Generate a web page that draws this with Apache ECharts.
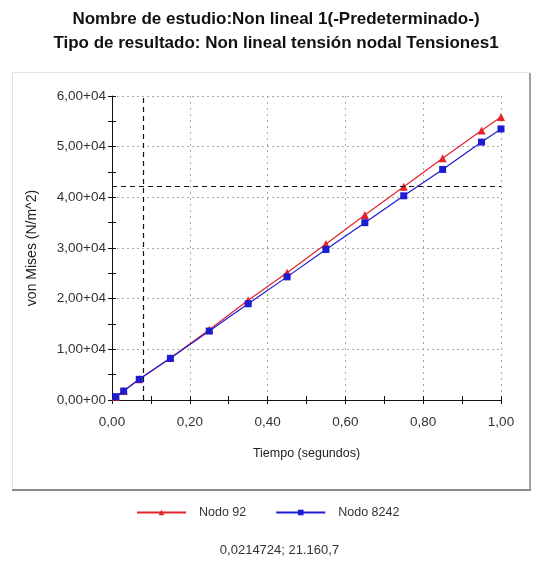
<!DOCTYPE html>
<html>
<head>
<meta charset="utf-8">
<script src="https://cdn.jsdelivr.net/npm/echarts@6/dist/echarts.min.js"></script>
<style>
  html, body { margin: 0; padding: 0; background: #ffffff; }
  #chart { width: 559px; height: 576px; }
</style>
</head>
<body>
<div id="chart"></div>
<script>
// Time steps of the non-linear study (seconds)
const timeSteps = [0.01, 0.03, 0.07, 0.15, 0.25, 0.35, 0.45, 0.55, 0.65, 0.75, 0.85, 0.95, 1.0];
// von Mises stress (N/m^2) at each node
const nodo92   = [660, 1800, 4100, 8300, 13850, 19700, 25100, 30800, 36500, 42100, 47700, 53200, 55850];
const nodo8242 = [650, 1770, 4080, 8220, 13600, 19000, 24300, 29700, 35000, 40300, 45500, 50900, 53500];
const seriesNames = ['Nodo 92', 'Nodo 8242'];
// Cursor crosshair position
const cursorTime = 0.077;
const cursorStress = 42200;
const cursorReadout = '0,0214724; 21.160,7';

const titleLines = [
  'Nombre de estudio:Non lineal 1(-Predeterminado-)',
  'Tipo de resultado: Non lineal tensión nodal Tensiones1'
];

const FONT = '"Liberation Sans", Arial, sans-serif';

function fmtY(v) {
  if (v === 0) return '0,00+00';
  return (v / 1e4).toFixed(2).replace('.', ',') + '+04';
}
function fmtX(v) {
  return v.toFixed(2).replace('.', ',');
}

const red = '#e3232b';
const blue = '#1c1cd0';

const chart = echarts.init(document.getElementById('chart'));

const option = {
  animation: false,
  backgroundColor: '#ffffff',
  title: {
    text: titleLines.join('\n'),
    left: 271,
    top: 2,
    textAlign: 'center',
    textStyle: { fontFamily: FONT, fontSize: 17, fontWeight: 'bold', color: '#111', lineHeight: 24 }
  },
  graphic: [
    { type: 'rect', z: -10, silent: true,
      shape: { x: 12.5, y: 72.5, width: 517, height: 417 },
      style: { fill: 'none', stroke: '#e2e2e2', lineWidth: 1 } },
    { type: 'line', z: -10, silent: true,
      shape: { x1: 12, y1: 490, x2: 531, y2: 490 },
      style: { stroke: '#8a8a8a', lineWidth: 2 } },
    { type: 'line', z: -10, silent: true,
      shape: { x1: 530, y1: 73, x2: 530, y2: 490 },
      style: { stroke: '#a0a0a0', lineWidth: 2 } },
    { type: 'text', silent: true, left: 'center', top: 544,
      x: -7,
      style: { text: cursorReadout, fontFamily: FONT, fontSize: 13, fill: '#333' } }
  ],
  legend: {
    left: 131,
    top: 501,
    itemWidth: 49,
    itemHeight: 7,
    itemGap: 29,
    textStyle: { fontFamily: FONT, fontSize: 12.5, color: '#333', padding: [0, 0, 0, 8] },
    data: seriesNames
  },
  grid: { left: 112, top: 96, width: 389, height: 304, containLabel: false },
  xAxis: [
    {
      type: 'value', min: 0, max: 1, interval: 0.2,
      name: 'Tiempo (segundos)', nameLocation: 'middle', nameGap: 47,
      nameTextStyle: { fontFamily: FONT, fontSize: 12.5, color: '#222' },
      axisLine: { show: true, lineStyle: { color: '#111', width: 1 } },
      axisTick: { show: false },
      axisLabel: { formatter: fmtX, margin: 15, fontFamily: FONT, fontSize: 13.5, color: '#333' },
      splitLine: { show: true, lineStyle: { color: '#a8a8a8', type: [2, 4], width: 1 } }
    },
    {
      // crossing tick marks every 0.1
      type: 'value', min: 0, max: 1, interval: 0.1, position: 'bottom', offset: -4,
      axisLine: { show: false },
      axisTick: { show: true, length: 8, lineStyle: { color: '#111', width: 1 } },
      axisLabel: { show: false },
      splitLine: { show: false }
    }
  ],
  yAxis: [
    {
      type: 'value', min: 0, max: 60000, interval: 10000,
      name: 'von Mises (N/m^2)', nameLocation: 'middle', nameGap: 73, nameRotate: 90,
      nameTextStyle: { fontFamily: FONT, fontSize: 14, color: '#222' },
      axisLine: { show: true, lineStyle: { color: '#111', width: 1 } },
      axisTick: { show: false },
      axisLabel: { formatter: fmtY, margin: 6, fontFamily: FONT, fontSize: 13.5, color: '#333' },
      splitLine: { show: true, lineStyle: { color: '#a8a8a8', type: [2, 3], width: 1 } }
    },
    {
      // crossing tick marks every 0.5e4
      type: 'value', min: 0, max: 60000, interval: 5000, position: 'left', offset: -4,
      axisLine: { show: false },
      axisTick: { show: true, length: 8, lineStyle: { color: '#111', width: 1 } },
      axisLabel: { show: false },
      splitLine: { show: false }
    }
  ],
  series: [
    {
      name: seriesNames[0], type: 'line', xAxisIndex: 0, yAxisIndex: 0,
      data: timeSteps.map((t, i) => [t, nodo92[i]]),
      symbol: 'triangle', symbolSize: 8, showAllSymbol: true,
      itemStyle: { color: red },
      lineStyle: { color: red, width: 1.2 },
      z: 3,
      markLine: {
        silent: true, symbol: 'none', animation: false,
        label: { show: false },
        lineStyle: { color: '#111', type: [5, 4], width: 1.2 },
        data: [{ xAxis: cursorTime }, { yAxis: cursorStress }]
      }
    },
    {
      name: seriesNames[1], type: 'line', xAxisIndex: 0, yAxisIndex: 0,
      data: timeSteps.map((t, i) => [t, nodo8242[i]]),
      symbol: 'rect', symbolSize: 7, showAllSymbol: true,
      itemStyle: { color: blue },
      lineStyle: { color: blue, width: 1.2 },
      z: 4
    }
  ]
};

chart.setOption(option);
</script>
</body>
</html>
